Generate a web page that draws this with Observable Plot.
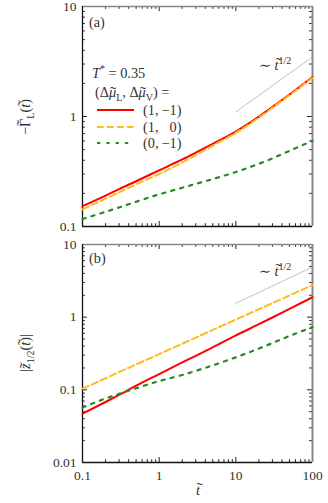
<!DOCTYPE html>
<html><head><meta charset="utf-8">
<script src="https://cdn.jsdelivr.net/npm/d3@7"></script>
<script src="https://cdn.jsdelivr.net/npm/@observablehq/plot@0.6"></script>
<style>
body{margin:0;background:#fff;}
#wrap{position:relative;width:328px;height:503px;font-family:"Liberation Serif","DejaVu Serif",serif;color:#333;overflow:hidden;}
#wrap svg{display:block;overflow:visible;position:relative;}
.lbl{position:absolute;white-space:pre;font-size:14.3px;line-height:1;transform:translate(0,-50%);}
.rot{position:absolute;white-space:nowrap;font-size:14.3px;line-height:1;transform:translate(-50%,-50%) rotate(-90deg);}
.cen{position:absolute;white-space:nowrap;font-size:14.3px;line-height:1;transform:translate(-50%,-50%);}
i{font-style:italic;}
sub,sup{font-size:70%;line-height:0;}
.acc{position:relative;display:inline-block;}
.acc::after{content:"\02DC";position:absolute;left:var(--dx,0.08em);right:0;top:var(--dy,-0.08em);text-align:center;font-style:normal;font-size:1em;line-height:1;transform:scaleX(1.3);}
</style></head><body><div id="wrap"></div>
<script>
// ---- data ----
const tValues = [0.1, 0.2, 0.3, 0.5, 1, 2, 3, 5, 10, 20, 30, 50, 100];
// panel (a): -Gamma_L(t)
const gammaRed    = [0.153, 0.191, 0.219, 0.258, 0.324, 0.407, 0.470, 0.565, 0.73, 0.997, 1.22, 1.58, 2.28];
const gammaYellow = [0.143, 0.179, 0.204, 0.242, 0.300, 0.382, 0.445, 0.544, 0.71, 0.977, 1.20, 1.56, 2.25];
const gammaGreen  = [0.117, 0.136, 0.149, 0.168, 0.196, 0.225, 0.244, 0.270, 0.313, 0.372, 0.416, 0.487, 0.60];
// panel (b): |z_{1/2}(t)|
const zRed    = [0.047, 0.068, 0.085, 0.114, 0.165, 0.238, 0.294, 0.385, 0.56, 0.80, 0.99, 1.30, 1.88];
const zYellow = [0.104, 0.144, 0.176, 0.223, 0.310, 0.431, 0.522, 0.667, 0.925, 1.285, 1.56, 1.99, 2.76];
const zGreen  = [0.057, 0.076, 0.088, 0.105, 0.132, 0.160, 0.182, 0.217, 0.28, 0.37, 0.44, 0.55, 0.73];
// ~ t^{1/2} guide lines
const guideT = [10, 100];
const guideA = [1.1, 3.48];
const guideB = [1.55, 4.9];
// ticks
const xTicks = [0.1, 1, 10, 100];
const yTicksA = [0.1, 1, 10];
const yTicksB = [0.01, 0.1, 1, 10];
const legendLabels = [["(1,", "\u22121)"], ["(1,", "0)"], ["(0,", "\u22121)"]];
const seriesStyle = [
  {stroke: "#ff0000", strokeWidth: 2, strokeDasharray: null},
  {stroke: "#ffbb1c", strokeWidth: 2, strokeDasharray: "6.7,3.3"},
  {stroke: "#228b22", strokeWidth: 2.2, strokeDasharray: "3.3,6"}
];

function minors(majors) {
  const out = [];
  for (let i = 0; i < majors.length - 1; i++) for (let k = 2; k <= 9; k++) out.push(+(majors[i] * k).toPrecision(3));
  return out;
}
const rows = vals => tValues.map((x, i) => ({x, y: vals[i]}));

function panel({height, mt, mb, yTicks, series, guide, showX}) {
  const W = 328, ml = 82, mr = 16;
  const iw = W - ml - mr, ih = height - mt - mb;
  const xMin = minors(xTicks), yMin = minors(yTicks);
  const yLo = yTicks[0], yHi = yTicks[yTicks.length - 1];
  const tk = "#222";
  const marks = [
    Plot.ruleX(xTicks, {insetTop: ih - 5, stroke: tk}),
    Plot.ruleX(xMin, {insetTop: ih - 2.8, stroke: tk}),
    Plot.ruleX(xTicks, {insetBottom: ih - 5, stroke: tk}),
    Plot.ruleX(xMin, {insetBottom: ih - 2.8, stroke: tk}),
    Plot.ruleY(yTicks, {insetRight: iw - 5, stroke: tk}),
    Plot.ruleY(yMin, {insetRight: iw - 2.8, stroke: tk}),
    Plot.ruleY(yTicks, {insetLeft: iw - 5, stroke: tk}),
    Plot.ruleY(yMin, {insetLeft: iw - 2.8, stroke: tk}),
    Plot.ruleY([yHi], {stroke: "#888", strokeWidth: 1.3}),
    Plot.ruleX([100], {stroke: "#888", strokeWidth: 2}),
    Plot.ruleX([0.1], {stroke: "#111", strokeWidth: 1.3}),
    Plot.ruleY([yLo], {stroke: "#111", strokeWidth: 1.3}),
    Plot.line(guideT.map((x, i) => ({x, y: guide[i]})), {x: "x", y: "y", stroke: "#999", strokeWidth: 0.7, strokeDasharray: "1,1"}),
    ...series.map((vals, i) => Plot.line(rows(vals), {x: "x", y: "y", curve: "monotone-x", stroke: seriesStyle[i].stroke, strokeWidth: seriesStyle[i].strokeWidth, strokeDasharray: seriesStyle[i].strokeDasharray || undefined})),
    Plot.axisY({ticks: yTicks, tickSize: 0, tickPadding: 6, tickFormat: d => String(d), label: null, fontSize: 13.5, fill: "#333"})
  ];
  if (showX) marks.push(Plot.axisX({ticks: xTicks, tickSize: 0, tickPadding: 8, tickFormat: d => String(d), label: null, fontSize: 13.5, fill: "#333"}));
  return Plot.plot({
    width: W, height, marginTop: mt, marginBottom: mb, marginLeft: ml, marginRight: mr,
    style: {fontFamily: "'Liberation Serif','DejaVu Serif',serif", fontSize: "13.5px", background: "transparent", overflow: "visible"},
    x: {type: "log", domain: [0.1, 100], ...(showX ? {} : {axis: null})},
    y: {type: "log", domain: [yLo, yHi]},
    marks
  });
}

const wrap = document.getElementById("wrap");
wrap.appendChild(panel({height: 240, mt: 6, mb: 14, yTicks: yTicksA, series: [gammaRed, gammaYellow, gammaGreen], guide: guideA, showX: false}));
wrap.appendChild(panel({height: 263, mt: 4, mb: 41, yTicks: yTicksB, series: [zRed, zYellow, zGreen], guide: guideB, showX: true}));

function add(cls, x, y, html) {
  const d = document.createElement("div");
  d.className = cls; d.style.left = x + "px"; d.style.top = y + "px"; d.innerHTML = html;
  wrap.appendChild(d);
}
const acc = (ch, it, dy, dx) => '<span class="acc" style="--dy:' + dy + 'em;--dx:' + dx + 'em">' + (it ? "<i>" + ch + "</i>" : ch) + '</span>';
const tt = acc("t", true, -0.12, 0.1);
const mu = acc("\u03bc", true, 0.02, 0.08);
add("lbl", 89, 22, "(a)");
add("lbl", 89, 258, "(b)");
add("lbl", 92, 73, "<i>T</i><sup>*</sup> = 0.35");
add("lbl", 95, 92, "(\u0394" + mu + "<sub>L</sub>, \u0394" + mu + "<sub>V</sub>) =");
const legY = [110, 127, 143];
legendLabels.forEach((p, i) => add("lbl", 143, legY[i], p[0] + '<span style="display:inline-block;width:23px;text-align:right">' + p[1] + "</span>"));
add("lbl", 259, 65, "\u223c " + tt + "<sup>1/2</sup>");
add("lbl", 259, 271, "\u223c " + tt + "<sup>1/2</sup>");
add("rot", 25, 117, "\u2212" + acc("\u0393", false, -0.24, 0) + "<sub>L</sub>(" + tt + ")");
add("rot", 25, 353, "|" + acc("z", true, 0.02, 0.06) + "<sub>1/2</sub>(" + tt + ")|");
add("cen", 198, 490, tt);

// legend swatches
const ns = "http://www.w3.org/2000/svg";
const sw = document.createElementNS(ns, "svg");
sw.setAttribute("width", 328); sw.setAttribute("height", 503);
sw.style.position = "absolute"; sw.style.left = "0"; sw.style.top = "0"; sw.style.pointerEvents = "none";
seriesStyle.forEach((s, i) => {
  const l = document.createElementNS(ns, "line");
  l.setAttribute("x1", 97); l.setAttribute("x2", 134); l.setAttribute("y1", legY[i]); l.setAttribute("y2", legY[i]);
  l.setAttribute("stroke", s.stroke); l.setAttribute("stroke-width", s.strokeWidth);
  if (s.strokeDasharray) l.setAttribute("stroke-dasharray", s.strokeDasharray);
  sw.appendChild(l);
});
wrap.appendChild(sw);
</script></body></html>
